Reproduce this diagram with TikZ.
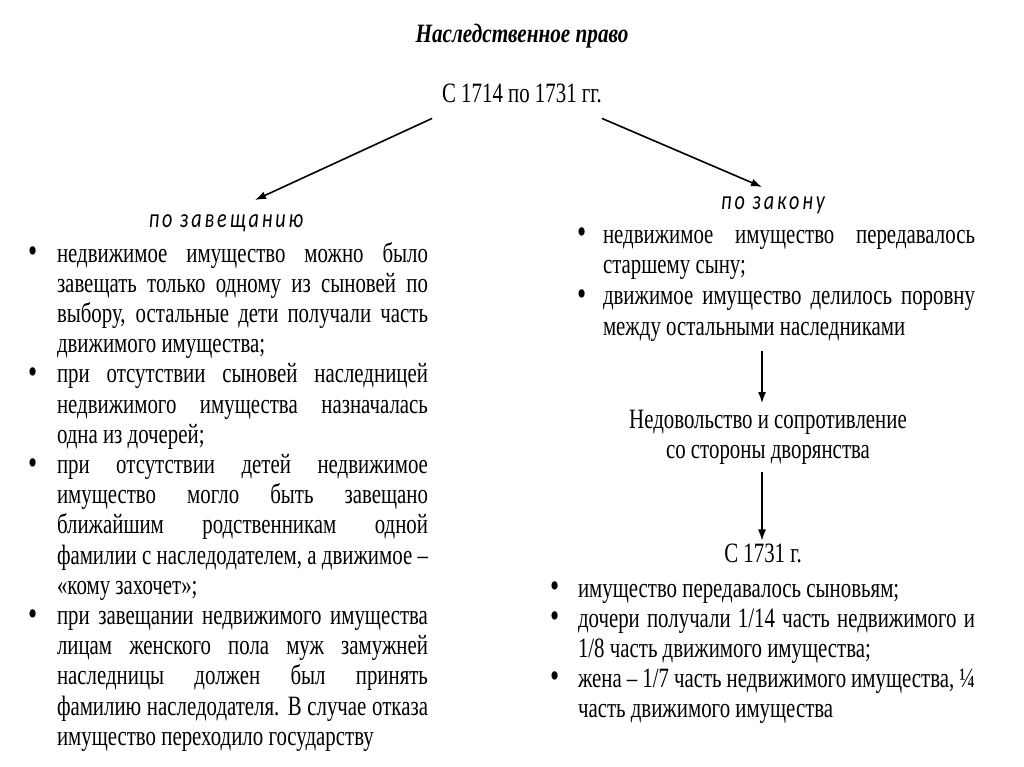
\documentclass[tikz,border=0pt]{standalone}
\usepackage{fontspec}
\setmainfont{Liberation Serif}[FakeStretch=0.745]
\newfontfamily\titlefont{Liberation Serif}[FakeStretch=0.8]
\newfontfamily\labfont{Carlito}[FakeStretch=0.76, LetterSpace=11]
\usetikzlibrary{arrows.meta,calc}
\newcommand{\jl}[2]{\makebox[#1][s]{#2}}
\newcommand{\bul}[1]{\makebox[#1][l]{\raisebox{-0.6pt}{\scalebox{1.25}{•}}}}
\newcommand{\ind}[1]{\hspace*{#1}}
\newcommand{\fst}{\rule{0pt}{22pt}}
\tikzset{
  txt/.style={inner sep=0pt, outer sep=0pt, font=\fontsize{28}{30.2}\selectfont},
  blk/.style={txt, align=left, anchor=north west},
  lab/.style={inner sep=0pt, outer sep=0pt, font=\labfont\itshape\fontsize{26.5}{28}\selectfont, anchor=base},
  darr/.style={line width=1.6pt, -{Latex[length=11pt,width=8pt]}},
  varr/.style={line width=1.2pt, -{Latex[length=11pt,width=8pt]}}
}
\begin{document}
\begin{tikzpicture}[x=1pt,y=-1pt]
\useasboundingbox (0,0) rectangle (1024,767);
\fill[white] (0,0) rectangle (1024,767);
% title and headings
\node[txt, anchor=base, font=\titlefont\bfseries\itshape\fontsize{26.5}{28}\selectfont] (title) at (522,43) {Наследственное право};
\node[txt, anchor=base] (h1714) at (522,103) {С 1714 по 1731 гг.};
\node[lab] (zav) at (226,227) {по завещанию};
\node[lab] (zak) at (773,210) {по закону};
% left block
\node[blk, font=\fontsize{28}{30.2}\selectfont] (L) at (28,240) {%
\fst\bul{29pt}\jl{371pt}{недвижимое имущество можно было}\\
\ind{29pt}\jl{371pt}{завещать только одному из сыновей по}\\
\ind{29pt}\jl{371pt}{выбору, остальные дети получали часть}\\
\ind{29pt}движимого имущества;\\
\bul{29pt}\jl{371pt}{при отсутствии сыновей наследницей}\\
\ind{29pt}\jl{371pt}{недвижимого имущества назначалась}\\
\ind{29pt}одна из дочерей;\\
\bul{29pt}\jl{371pt}{при отсутствии детей недвижимое}\\
\ind{29pt}\jl{371pt}{имущество могло быть завещано}\\
\ind{29pt}\jl{371pt}{ближайшим родственникам одной}\\
\ind{29pt}\jl{371pt}{фамилии с наследодателем, а движимое –}\\
\ind{29pt}«кому захочет»;\\
\bul{29pt}\jl{371pt}{при завещании недвижимого имущества}\\
\ind{29pt}\jl{371pt}{лицам женского пола муж замужней}\\
\ind{29pt}\jl{371pt}{наследницы должен был принять}\\
\ind{29pt}\jl{371pt}{фамилию наследодателя. В случае отказа}\\
\ind{29pt}имущество переходило государству};
% right top block
\node[blk, font=\fontsize{28}{30.7}\selectfont] (R) at (577,221) {%
\fst\bul{26pt}\jl{372pt}{недвижимое имущество передавалось}\\
\ind{26pt}старшему сыну;\\
\bul{26pt}\jl{372pt}{движимое имущество делилось поровну}\\
\ind{26pt}между остальными наследниками};
% middle
\node[txt, align=center, anchor=north, font=\fontsize{28}{30}\selectfont] (mid) at (768,406) {\fst Недовольство и сопротивление\\со стороны дворянства};
\node[txt, anchor=base] (c1731) at (763,562) {С 1731 г.};
% right lower block
\node[blk, font=\fontsize{28}{30}\selectfont] (R2) at (550,575) {%
\fst\bul{28pt}имущество передавалось сыновьям;\\
\bul{28pt}\jl{397pt}{дочери получали 1/14 часть недвижимого и}\\
\ind{28pt}1/8 часть движимого имущества;\\
\bul{28pt}\jl{397pt}{жена – 1/7 часть недвижимого имущества, ¼}\\
\ind{28pt}часть движимого имущества};
% connectors
\coordinate (ax) at (762,0);
\draw[darr] ($(h1714.south west)+(-10,15)$) -- ($(zav.base)+(29,-27)$);
\draw[darr] ($(h1714.south east)+(0,15)$) -- ($(zak.base)+(-11,-23)$);
\draw[varr] ($(R.south -| ax)+(0,10)$) -- ($(mid.north -| ax)+(0,-3)$);
\draw[varr] ($(mid.south -| ax)+(0,8)$) -- ($(c1731.north -| ax)+(0,-3)$);
\end{tikzpicture}
\end{document}
